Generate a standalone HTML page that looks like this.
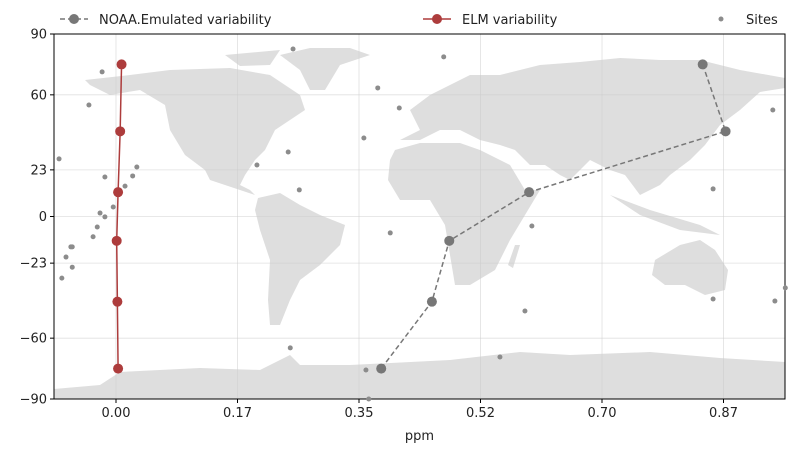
<!DOCTYPE html>
<html><head><meta charset="utf-8"><style>
body{margin:0;background:#fff;}
svg text{font-family:"DejaVu Sans","Liberation Sans",sans-serif;font-size:13px;fill:#222;}
</style></head><body>
<svg id="chart" width="800" height="450" viewBox="0 0 800 450">
<g id="map" fill="#dedede" stroke="none">
<polygon points="85,80 130,75 170,70 230,68 270,75 300,95 305,110 290,120 275,130 265,150 255,160 245,175 240,185 250,190 255,195 240,190 225,185 210,180 205,170 185,155 170,130 165,105 140,90 110,95 90,85"/>
<polygon points="280,55 310,48 350,48 370,55 340,65 325,90 310,90 300,70"/>
<polygon points="225,55 280,50 270,65 240,66"/>
<polygon points="258,198 280,193 300,205 320,215 345,225 340,245 320,265 300,280 290,300 280,325 270,325 268,300 270,260 260,230 255,210"/>
<polygon points="395,150 420,143 460,143 480,150 510,165 525,190 540,190 525,215 510,240 495,270 470,285 455,285 450,255 445,225 430,200 400,200 388,180 390,160"/>
<polygon points="515,245 520,245 513,268 508,265"/>
<polygon points="400,140 420,130 410,110 430,95 450,85 470,75 500,75 540,65 580,62 620,58 660,60 700,60 740,70 785,78 785,88 760,92 740,110 720,125 705,145 690,160 670,175 660,185 640,195 625,175 610,170 590,160 570,180 560,175 545,165 530,165 515,150 500,145 480,140 460,130 440,130 420,140"/>
<polygon points="610,195 650,210 700,225 720,235 680,230 640,215"/>
<polygon points="655,260 680,245 700,240 715,250 728,270 725,290 705,295 685,285 665,285 652,275"/>
<polygon points="54,389 100,385 120,372 200,368 260,370 290,355 300,365 350,365 450,360 520,352 570,355 650,352 720,358 785,362 785,399 54,399"/>
</g>
<g id="grid"></g><g id="axes"></g><g id="marks"></g><g id="legend"></g>
</svg>
<script>
const xTicks=[0,0.175,0.35,0.525,0.7,0.875];
const xTickLabels=["0.00","0.17","0.35","0.52","0.70","0.87"];
const yTicks=[90,60,23,0,-23,-60,-90];
const yTickLabels=["90","60","23","0","\u221223","\u221260","\u221290"];
const lats=[75,42,12,-12,-42,-75];
const noaaVals=[0.845,0.878,0.595,0.48,0.455,0.382];
const elmVals=[0.008,0.006,0.003,0.001,0.002,0.003];
const siteX=[-0.082,-0.020,-0.039,-0.016,0.013,0.024,0.030,-0.004,-0.023,-0.016,-0.027,-0.033,-0.063,-0.065,-0.072,-0.063,-0.078,0.203,0.248,0.264,0.255,0.357,0.377,0.408,0.472,0.395,0.599,0.589,0.553,0.360,0.364,0.251,0.860,0.860,0.946,0.949,0.964];
const siteY=[28.4,71.3,55,19.5,15,20,24.4,4.7,1.7,-0.2,-5.2,-10,-15,-15,-20,-25,-30.4,25.4,31.8,13.1,82.6,38.7,63.4,53.5,78.7,-8.1,-4.7,-46.6,-69.3,-75.7,-90,-64.8,13.6,-40.7,52.5,-41.7,-35.2];
const L=54,R=785,T=34,B=399;
const x=v=>116+v*694.3;
const y=v=>T+(90-v)*(B-T)/180;
const NS="http://www.w3.org/2000/svg";
function mk(tag,attrs,parent){const e=document.createElementNS(NS,tag);for(const k in attrs)e.setAttribute(k,attrs[k]);parent.appendChild(e);return e;}
const grid=document.getElementById('grid'),axes=document.getElementById('axes'),marks=document.getElementById('marks'),legend=document.getElementById('legend');
xTicks.forEach((t,i)=>{
 const g=mk('line',{x1:x(t),x2:x(t),y1:T,y2:B,stroke:'#cccccc','stroke-width':0.8,'stroke-opacity':0.6},grid);
 
 
 mk('line',{x1:x(t),x2:x(t),y1:B,y2:B+4,stroke:'#000'},axes);
 const tx=mk('text',{x:x(t),y:B+18,'text-anchor':'middle'},axes);tx.textContent=xTickLabels[i];
 
 
});
yTicks.forEach((t,i)=>{
 const g=mk('line',{x1:L,x2:R,y1:y(t),y2:y(t),stroke:'#cccccc','stroke-width':0.8,'stroke-opacity':0.6},grid);
 
 
 mk('line',{x1:L-4,x2:L,y1:y(t),y2:y(t),stroke:'#000'},axes);
 const tx=mk('text',{x:L-7,y:y(t)+4.5,'text-anchor':'end'},axes);tx.textContent=yTickLabels[i];
 
 
});
const fr=mk('rect',{x:L,y:T,width:R-L,height:B-T,fill:'none',stroke:'#000','stroke-width':1},axes);


const xt=mk('text',{x:(L+R)/2,y:440,'text-anchor':'middle'},axes);xt.textContent='ppm';


siteX.forEach((v,i)=>{
 const c=mk('circle',{cx:x(v),cy:y(siteY[i]),r:2.5,fill:'#8c8c8c'},marks);
 
 
});
function series(vals,color,dash,name){
 const p=mk('polyline',{points:vals.map((v,i)=>x(v)+','+y(lats[i])).join(' '),fill:'none',stroke:color,'stroke-width':1.5,'stroke-dasharray':dash},marks);
 
 
 vals.forEach((v,i)=>{const c=mk('circle',{cx:x(v),cy:y(lats[i]),r:5,fill:color},marks);
 
 });
}
series(noaaVals,'#777777','5,3','noaa');
series(elmVals,'#ad3c3c','none','elm');
function leg(x0,color,dash,label,name){
 const g=mk('g',{},legend);
 
 
 if(dash!==null) mk('line',{x1:x0,x2:x0+28,y1:19,y2:19,stroke:color,'stroke-width':1.5,'stroke-dasharray':dash},g);
 mk('circle',{cx:x0+14,cy:19,r:dash===null?2.5:5,fill:color},g);
 const t=mk('text',{x:x0+39,y:24},g);t.textContent=label;
}
leg(60,'#777777','5,3','NOAA.Emulated variability','legend-noaa');
leg(423,'#ad3c3c','none','ELM variability','legend-elm');
leg(707,'#8c8c8c',null,'Sites','legend-sites');
</script>
</body></html>
